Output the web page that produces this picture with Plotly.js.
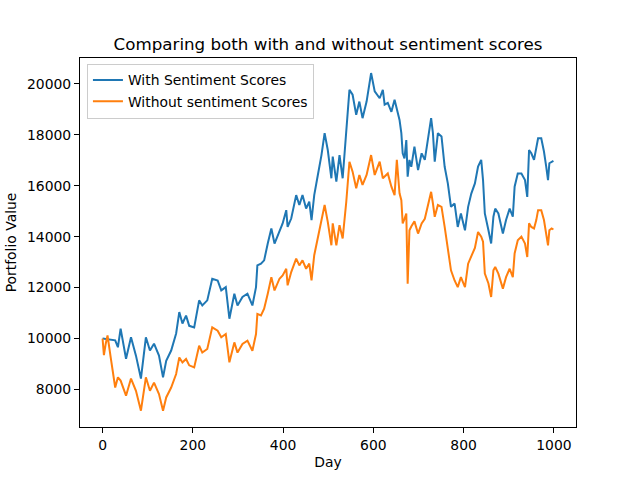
<!DOCTYPE html>
<html>
<head>
<meta charset="utf-8">
<script src="https://cdn.plot.ly/plotly-3.0.1.min.js"></script>
<style>
  html, body { margin: 0; padding: 0; background: #fff; }
  #chart { width: 640px; height: 480px; }
</style>
</head>
<body>
<div id="chart"></div>
<script>
const days = [
  0, 3, 7, 11, 18, 28, 34, 40, 52, 63, 74, 85, 96, 105, 114, 125, 134, 141, 152, 163,
  170, 177, 185, 192, 203, 214, 221, 232, 243, 255, 263, 273, 281, 292, 299, 310, 321, 332, 340, 343,
  351, 358, 366, 374, 381, 392, 399, 407, 410, 418, 429, 436, 443, 451, 458, 463, 469, 477, 485, 492,
  499, 507, 510, 518, 525, 532, 540, 547, 554, 562, 569, 576, 585, 595, 603, 614, 621, 625, 632, 640,
  647, 652, 658, 662, 665, 669, 673, 676, 680, 684, 691, 699, 707, 714, 721, 728, 732, 736, 743, 751,
  758, 765, 772, 780, 787, 794, 803, 810, 817, 825, 832, 839, 843, 847, 855, 861, 866, 870, 877, 887,
  894, 902, 909, 913, 920, 928, 936, 941, 945, 950, 956, 961, 965, 972, 978, 983, 987, 990, 995, 999
];

const withSentiment = [
  10000, 9990, 9980, 9970, 9960, 9930, 9660, 10390, 9210, 10050, 9330, 8430, 10050, 9530, 9800, 9330, 8480, 9130, 9530, 10200,
  11040, 10590, 10900, 10500, 10440, 11500, 11300, 11500, 12350, 12280, 11890, 12020, 10780, 11760, 11300, 11630, 11760, 11300, 12020, 12870,
  12940, 13070, 13730, 14320, 13730, 14250, 14520, 15040, 14380, 14710, 15630, 15240, 15630, 15100, 15370, 14650, 15630, 16420, 17200, 18060,
  17400, 16290, 17140, 16160, 17200, 16290, 17990, 19760, 19570, 18780, 19300, 18650, 19300, 20420, 19700, 19430, 19760, 19180, 19250, 18900,
  19370, 19000, 18580, 18060, 17270, 17070, 17790, 16350, 17010, 16740, 17530, 16610, 17270, 17010, 17790, 18650, 18060, 16940, 18060, 17930,
  16740, 16090, 15170, 15300, 14380, 14910, 14250, 15170, 15690, 16090, 16750, 17010, 16220, 14910, 14250, 13730, 14780, 15100, 14910, 14120,
  14650, 15100, 14780, 15960, 16480, 16480, 16220, 15560, 17400, 17270, 17010, 17460, 17860, 17860, 17340, 16750, 16220, 16880, 16950, 16970
];

const withoutSentiment = [
  10000, 9350, 9800, 10120, 9260, 8080, 8480, 8350, 7760, 8430, 7950, 7170, 8480, 7950, 8270, 7820, 7170, 7690, 8080, 8610,
  9260, 9060, 9200, 8950, 8870, 9720, 9450, 9590, 10440, 10310, 10050, 10180, 9070, 9850, 9450, 9790, 9920, 9520, 10180, 10970,
  10910, 11170, 11760, 12410, 11890, 12350, 12480, 12740, 12090, 12610, 13140, 12870, 13070, 12740, 12940, 12280, 13270, 13930, 14580, 15240,
  14580, 13660, 14520, 13660, 14450, 13930, 15370, 16940, 16550, 15900, 16420, 16030, 16420, 17200, 16420, 16940, 16290, 16350, 16480, 15960,
  15630, 17010, 15700, 15430, 14520, 14700, 14910, 12150, 14250, 14400, 14600, 14120, 14520, 14700, 15200, 15760, 15300, 14780, 15240, 15170,
  14380, 13600, 12680, 12280, 12020, 12410, 12020, 12940, 13200, 13560, 14180, 14000, 13800, 12550, 12160, 11630, 12680, 12810, 12550, 11960,
  12410, 12740, 12410, 13340, 13860, 14000, 13730, 13200, 14520, 14380, 14320, 14650, 15040, 15040, 14650, 14120, 13660, 14250, 14320, 14280
];

const seriesNames = ['With Sentiment Scores', 'Without sentiment Scores'];
const xTicks = [0, 200, 400, 600, 800, 1000];
const yTicks = [8000, 10000, 12000, 14000, 16000, 18000, 20000];

const font = 'DejaVu Sans, Liberation Sans, sans-serif';

const traces = [
  {
    x: days, y: withSentiment, name: seriesNames[0],
    type: 'scatter', mode: 'lines',
    line: { color: '#1f77b4', width: 2 }
  },
  {
    x: days, y: withoutSentiment, name: seriesNames[1],
    type: 'scatter', mode: 'lines',
    line: { color: '#ff7f0e', width: 2 }
  }
];

const axisBase = {
  showgrid: false, zeroline: false,
  showline: true, mirror: true, linecolor: '#000', linewidth: 1,
  ticks: 'outside', ticklen: 5, tickwidth: 1, tickcolor: '#000',
  tickfont: { family: font, size: 13.9, color: '#000' }
};

const layout = {
  width: 640, height: 480,
  margin: { l: 80, r: 64, t: 58, b: 53 },
  paper_bgcolor: '#fff', plot_bgcolor: '#fff',
  font: { family: font, color: '#000' },
  title: {
    text: 'Comparing both with and without sentiment scores',
    font: { family: font, size: 16.7, color: '#000' },
    xref: 'paper', x: 0.5, xanchor: 'center',
    yref: 'container', y: 1 - 44 / 480, yanchor: 'middle'
  },
  xaxis: Object.assign({}, axisBase, {
    range: [-50, 1049],
    tickvals: xTicks,
    title: { text: 'Day', font: { family: font, size: 13.9, color: '#000' }, standoff: 5 }
  }),
  yaxis: Object.assign({}, axisBase, {
    range: [6530, 21010],
    tickvals: yTicks, tickformat: 'd',
    title: { text: 'Portfolio Value', font: { family: font, size: 13.9, color: '#000' }, standoff: 7 }
  }),
  showlegend: true,
  legend: {
    x: 0.014, y: 0.985, xanchor: 'left', yanchor: 'top',
    bgcolor: 'rgba(255,255,255,0.8)', bordercolor: '#cccccc', borderwidth: 1,
    font: { family: font, size: 13.9, color: '#000' },
    itemwidth: 30, tracegroupgap: 0
  }
};

Plotly.newPlot('chart', traces, layout, { staticPlot: true });
</script>
</body>
</html>
